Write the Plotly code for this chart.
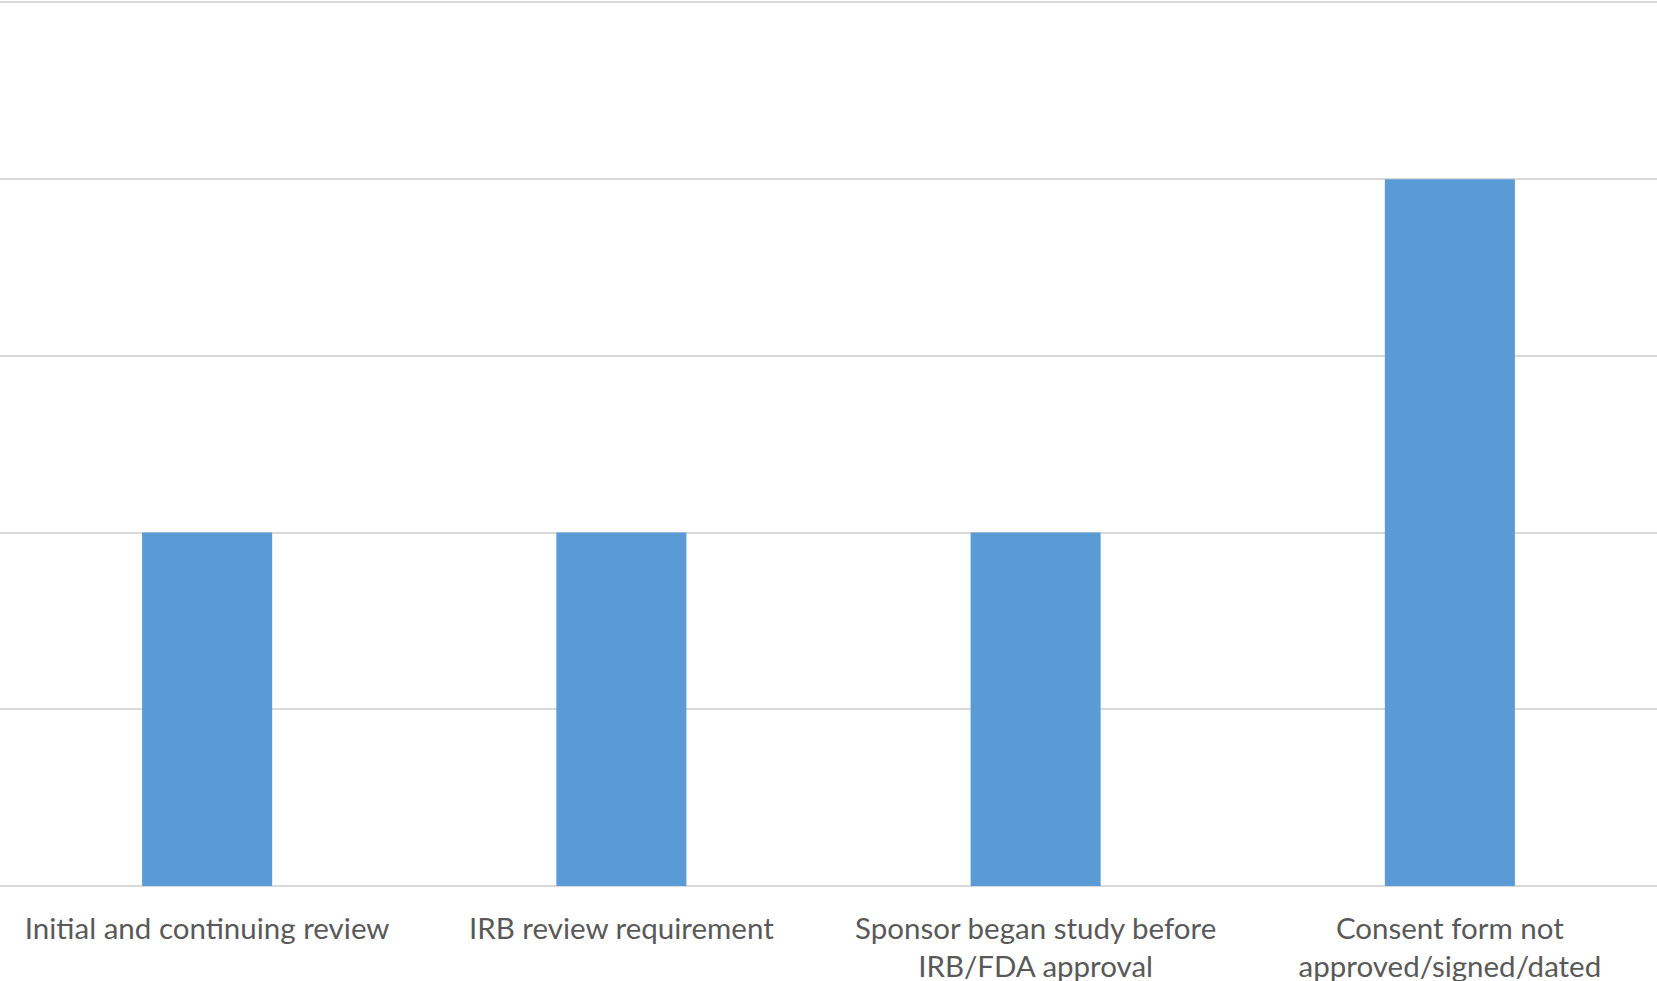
import plotly.graph_objects as go

categories = [
    "Initial and continuing review",
    "IRB review requirement",
    "Sponsor began study before<br>IRB/FDA approval",
    "Consent form not<br>approved/signed/dated",
]
values = [2, 2, 2, 4]
y_ticks = [0, 1, 2, 3, 4, 5]

fig = go.Figure(
    go.Bar(x=categories, y=values, marker=dict(color="#5B9BD5", line=dict(width=0)),
           hoverinfo="skip")
)
fig.update_layout(
    width=1657,
    height=981,
    margin=dict(l=0, r=0, t=0, b=95, autoexpand=False),
    paper_bgcolor="white",
    plot_bgcolor="white",
    bargap=0.686,
    showlegend=False,
    font=dict(family="Lato, Open Sans, sans-serif", size=29.5, color="#595959"),
)
fig.update_xaxes(
    showgrid=False,
    showline=False,
    ticks="",
    ticklabelstandoff=22,
    tickfont=dict(size=29.5, color="#595959"),
)
fig.update_yaxes(
    range=[0, 5.014],
    tickvals=y_ticks,
    showticklabels=False,
    showgrid=True,
    gridcolor="#d9d9d9",
    gridwidth=2,
    zeroline=True,
    zerolinecolor="#d9d9d9",
    zerolinewidth=2,
    showline=False,
    ticks="",
)
fig.write_html(
    "out.html",
    config={"displayModeBar": False},
    post_script="document.body.style.margin='0';document.body.style.overflow='hidden';",
)
